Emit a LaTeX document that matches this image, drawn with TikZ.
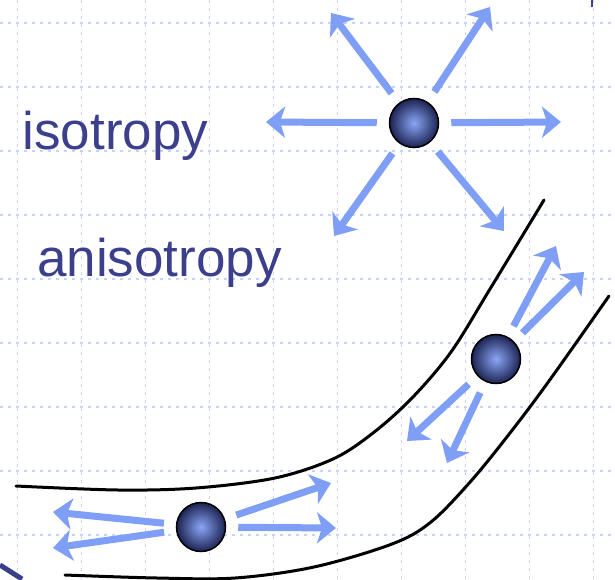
\documentclass[tikz,border=0pt]{standalone}
\usepackage{fontspec}
\setmainfont{Liberation Sans}
\usetikzlibrary{arrows.meta}
\definecolor{raybl}{HTML}{7F9FF7}
\definecolor{txtbl}{HTML}{3C408C}
\definecolor{gridbl}{HTML}{C6D4FA}
\definecolor{ballin}{HTML}{8AA6F6}
\definecolor{ballout}{HTML}{1C2352}
\definecolor{edgebl}{HTML}{3A3F8A}

\begin{document}
\begin{tikzpicture}[
      x=1pt, y=1pt,
      every node/.style={font=\fontsize{53}{60}\selectfont, text=txtbl},
      ball/.style={circle, draw=black, line width=1.5pt, minimum size=49pt,
                   inner sep=0pt, inner color=ballin, outer color=ballout},
      ray/.style={draw=raybl, line width=7pt, shorten <=12pt,
                  -{Stealth[length=19pt, width=31pt, inset=5pt]}},
      pipe/.style={line width=3pt, line cap=round},
      gridline/.style={gridbl, line width=1.3pt, dash pattern=on 3pt off 5pt},
    ]
    \useasboundingbox (0,0) rectangle (615,579);

    % background grid
    \foreach \gx in {17.6,81.6,...,600} \draw[gridline] (\gx,0) -- (\gx,579);
    \foreach \gy in {44,108,...,560} \draw[gridline] (0,\gy) -- (615,\gy);

    % the bent channel
    \draw[pipe] plot[smooth, tension=0.55] coordinates {(16,93) (118,89) (196,91)
      (275,101) (333,120) (373,146) (412,181) (451,227) (490,290) (544,379)};
    \draw[pipe] plot[smooth, tension=0.55] coordinates {(65,4) (157,1) (235,1)
      (314,12) (392,35) (431,57) (471,98) (510,146) (549,198) (609,283)};

    \node[anchor=base west, inner sep=0pt] (isolbl) at (22.5,429) {isotropy};
    \node[anchor=base west, inner sep=0pt] (anisolbl) at (37,302) {anisotropy};

    \node[ball] (iso) at (414,456) {};
    \node[ball] (bend) at (496,220) {};
    \node[ball] (low) at (201,52) {};

    \foreach \n/\tx/\ty in {a/331/566, b/490/572, c/266/457, d/561/457, e/334/343, f/504/348} {
      \coordinate (iso-\n) at (\tx,\ty);
      \draw[ray] (iso) -- (iso-\n);
    }
    \foreach \n/\tx/\ty in {a/556/333, b/584/307, c/407/138, d/447/116} {
      \coordinate (bend-\n) at (\tx,\ty);
      \draw[ray] (bend) -- (bend-\n);
    }
    \foreach \n/\tx/\ty in {a/53/67, b/53/31, c/331/96, d/336/51} {
      \coordinate (low-\n) at (\tx,\ty);
      \draw[ray] (low) -- (low-\n);
    }

    % slide edge remnants
    \draw[edgebl, line width=5pt] (0,14) -- (22,0);
    \draw[edgebl, line width=2pt] (592,579) -- (592,572);
  \end{tikzpicture}
\end{document}
